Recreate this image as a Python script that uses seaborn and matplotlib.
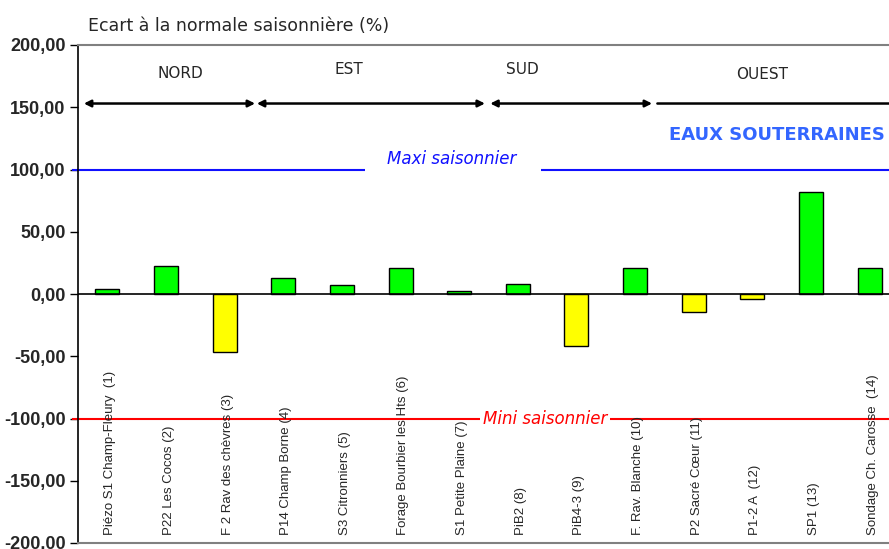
import numpy as np
import pandas as pd
import matplotlib
matplotlib.use("Agg")
import matplotlib.pyplot as plt
from matplotlib import font_manager
from matplotlib.ticker import FuncFormatter, MultipleLocator
import seaborn as sns

# Stations (ordre du graphique) et ecart a la normale (%)
stations = [
    "Piézo S1 Champ-Fleury  (1)", "P22 Les Cocos (2)", "F 2 Rav des chèvres (3)",
    "P14 Champ Borne (4)", "S3 Citronniers (5)", "Forage Bourbier les Hts (6)",
    "S1 Petite Plaine (7)", "PiB2 (8)", "PiB4-3 (9)", "F. Rav. Blanche (10)",
    "P2 Sacré Cœur (11)", "P1-2 A  (12)", "SP1 (13)", "Sondage Ch. Carosse  (14)",
]
ecarts = [3.7, 22.7, -46.8, 13.1, 7.0, 21.1, 2.8, 7.8, -42.0, 20.6, -14.7, -4.0, 81.7, 20.6]

# Secteurs : nom, debut, fin (en position de station)
secteurs = ["NORD", "EST", "SUD", "OUEST"]
secteur_bornes = [(-0.40, 2.52), (2.55, 6.44), (6.53, 9.29), (9.38, 13.5)]
secteur_label_x = [1.25, 4.12, 7.07, 11.17]
secteur_label_y = [177, 180, 180, 176]

maxi, mini = 100, -100

installed = {f.name for f in font_manager.fontManager.ttflist}
narrow = "Liberation Sans Narrow" if "Liberation Sans Narrow" in installed else "Liberation Sans"

sns.set_style("white")
plt.rcParams["font.family"] = ["DejaVu Sans"]

df = pd.DataFrame({"station": stations, "ecart": ecarts})
df["signe"] = np.where(df["ecart"] >= 0, "pos", "neg")

fig = plt.figure(figsize=(8.89, 5.49), dpi=100)
ax = fig.add_axes([78 / 889, 1 - 543 / 549, 1 - 78 / 889, (543 - 45) / 549])

sns.barplot(data=df, x="station", y="ecart", hue="signe",
            palette={"pos": "#00ff00", "neg": "#ffff00"}, dodge=False, saturation=1,
            width=0.41, edgecolor="black", linewidth=1, legend=False, ax=ax)

ax.set_xlim(-0.5, 13.33)
ax.set_ylim(-200, 200)
ax.yaxis.set_major_locator(MultipleLocator(50))
ax.yaxis.set_major_formatter(FuncFormatter(lambda v, p: f"{v:.2f}".replace(".", ",")))
ax.set_xticks([])
ax.set_xlabel("")
ax.set_ylabel("")
ax.tick_params(axis="y", direction="out", length=6, width=1, color="black", left=True,
               labelsize=13, pad=3)
for lab in ax.get_yticklabels():
    lab.set_fontfamily(narrow)
    lab.set_fontweight("bold")

for s in ["top", "bottom"]:
    ax.spines[s].set_color("#808080")
    ax.spines[s].set_linewidth(1.5)
ax.spines["right"].set_visible(False)
ax.spines["left"].set_color("black")
ax.spines["left"].set_linewidth(1.2)

ax.axhline(0, color="black", lw=1.2, zorder=1)

# lignes maxi / mini saisonnier
ax.hlines(maxi, -0.6, 4.40, color="#1010ff", lw=1.5, clip_on=False)
ax.hlines(maxi, 7.40, 13.5, color="#1010ff", lw=1.5)
ax.text(5.88, maxi + 1.5, "Maxi saisonnier", color="#1010ff", fontsize=12,
        style="italic", ha="center", va="bottom")
ax.hlines(mini, -0.6, 13.5, color="#ff0000", lw=1.5, clip_on=False)
ax.text(7.47, mini, "Mini saisonnier", color="#ff0000", fontsize=12, style="italic",
        ha="center", va="center", zorder=3,
        bbox=dict(facecolor="white", edgecolor="none", pad=2))

# secteurs
for nom, (x0, x1), lx, ly in zip(secteurs, secteur_bornes, secteur_label_x, secteur_label_y):
    style = "<|-|>" if nom != "OUEST" else "<|-"
    ax.annotate("", xy=(x0, 153), xytext=(x1, 153), annotation_clip=False,
                arrowprops=dict(arrowstyle=style, color="black", lw=1.8,
                                shrinkA=0, shrinkB=0, mutation_scale=10))
    ax.text(lx, ly, nom, fontsize=11, ha="center", va="center")

ax.text(13.26, 128, "EAUX SOUTERRAINES", color="#3366ff", fontsize=13,
        fontweight="bold", ha="right", va="center")

# etiquettes des stations, en bas du graphique
for i, nom in enumerate(stations):
    ax.text(i + 0.05, -193.5, nom, rotation=90, ha="center", va="bottom",
            fontsize=9.5, family=narrow, zorder=4)

fig.text(88 / 889, 1 - 26 / 549, "Ecart à la normale saisonnière (%)",
         fontsize=12.5, ha="left", va="center")

fig.savefig("out.png", dpi=100)
